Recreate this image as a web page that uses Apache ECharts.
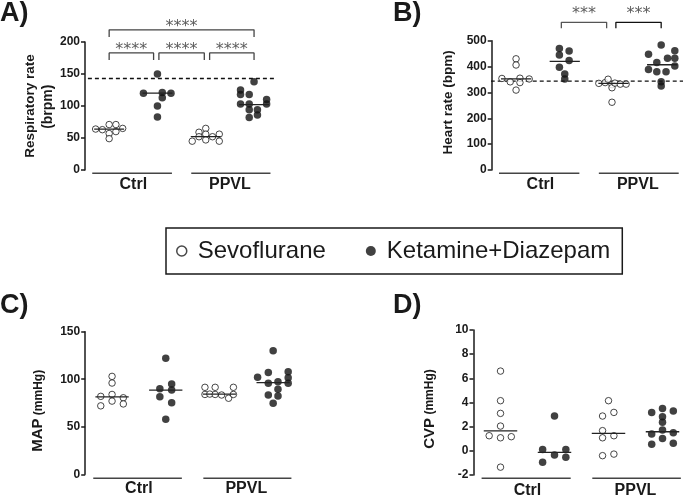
<!DOCTYPE html>
<html><head><meta charset="utf-8">
<script src="https://cdn.jsdelivr.net/npm/echarts@6/dist/echarts.min.js"></script>
<style>html,body{margin:0;padding:0;background:#fff}#c{width:683px;height:499px}</style>
</head><body><div id="c"></div>
<script>
// ---------------- DATA ----------------
const groupLabels = ['Ctrl', 'PPVL'];
const seriesNames = ['Sevoflurane', 'Ketamine+Diazepam'];

// A) Respiratory rate (brpm)
const rrTicks = [0, 50, 100, 150, 200];
const rrCtrlSevo = [64, 63, 71, 71, 65, 57, 60, 49];
const rrCtrlSevoJitter = [-0.28, -0.14, 0, 0.14, 0.28, 0, 0.14, 0];
const rrCtrlKD = [150, 120, 121, 120, 113, 100, 83];
const rrCtrlKDJitter = [0, -0.29, 0.1, 0.28, 0.1, 0, 0];
const rrPpvlSevo = [65, 59, 56, 52, 45, 47, 52, 56, 45];
const rrPpvlSevoJitter = [0, -0.14, 0, -0.14, -0.28, 0, 0.14, 0.28, 0.28];
const rrPpvlKD = [138, 125, 118, 118, 103, 103, 110, 103, 94, 94, 82, 86];
const rrPpvlKDJitter = [0, -0.28, -0.28, -0.1, -0.28, -0.1, 0.26, 0.26, -0.1, 0.07, -0.1, 0.07];
const rrMedians = [64, 120, 52, 102];
const rrReference = 143;

// B) Heart rate (bpm)
const hrTicks = [0, 100, 200, 300, 400, 500];
const hrCtrlSevo = [354, 341, 430, 406, 355, 338, 352, 309];
const hrCtrlSevoJitter = [-0.29, -0.12, 0, 0, 0.08, 0.08, 0.27, 0];
const hrCtrlKD = [470, 460, 445, 423, 397, 371, 352];
const hrCtrlKDJitter = [-0.11, 0.09, -0.11, 0.09, -0.11, 0, 0];
const hrPpvlSevo = [335, 338, 351, 330, 318, 336, 332, 332, 262];
const hrPpvlSevoJitter = [-0.3, -0.17, -0.11, -0.03, -0.03, 0.03, 0.14, 0.26, -0.03];
const hrPpvlKD = [483, 448, 461, 432, 432, 416, 402, 389, 380, 380, 341, 325];
const hrPpvlKDJitter = [-0.02, -0.28, 0.26, 0.11, 0.26, -0.11, 0.26, -0.28, -0.11, 0.08, -0.02, -0.02];
const hrMedians = [352, 420, 335, 407];
const hrReference = 344;

// C) MAP (mmHg)
const mapTicks = [0, 50, 100, 150];
const mapCtrlSevo = [103, 96, 84, 82, 80.5, 77, 72, 74];
const mapCtrlSevoJitter = [0, 0, 0, -0.21, 0.21, 0, -0.21, 0.21];
const mapCtrlKD = [122, 90, 95, 88.6, 81.6, 75.3, 58];
const mapCtrlKDJitter = [0, -0.11, 0.11, 0.11, -0.11, 0.11, 0];
const mapPpvlSevo = [91.5, 84, 84.4, 91.5, 84, 83.4, 80, 91.5, 84];
const mapPpvlSevoJitter = [-0.27, -0.27, -0.18, -0.08, -0.08, 0.04, 0.17, 0.26, 0.26];
const mapPpvlKD = [130, 102, 107, 108, 101.6, 95.7, 97.4, 95.7, 89.4, 83.4, 82.3, 74.7];
const mapPpvlKDJitter = [0, -0.29, -0.09, 0.28, 0.28, -0.09, 0.09, 0.28, 0.09, -0.09, 0.09, 0];
const mapMedians = [81.5, 88.6, 84.4, 96.5];

// D) CVP (mmHg)
const cvpTicks = [-2, 0, 2, 4, 6, 8, 10];
const cvpCtrlSevo = [6.6, 4.15, 3.1, 2.05, 1.25, 1.08, 1.17, -1.35];
const cvpCtrlSevoJitter = [0, 0, 0, 0, -0.21, 0, 0.2, 0];
const cvpCtrlKD = [2.88, 0.12, 0.12, -0.35, -0.95, -0.54];
const cvpCtrlKDJitter = [0, -0.22, 0.21, 0, -0.22, 0.21];
const cvpPpvlSevo = [4.15, 2.88, 3.18, 1.67, 1.08, 1.25, -0.4, -0.27];
const cvpPpvlSevoJitter = [0, -0.11, 0.1, -0.11, -0.11, 0.1, -0.11, 0.1];
const cvpPpvlKD = [3.18, 3.5, 3.3, 2.83, 2.36, 1.39, 1.72, 1.5, 1.03, 0.54, 0.62];
const cvpPpvlKDJitter = [-0.2, 0, 0.2, 0, 0, -0.2, 0, 0.2, 0, -0.2, 0.2];
const cvpMedians = [1.65, -0.12, 1.45, 1.58];

// significance annotations
const rrSig = ['****', '****', '****', '****'];
const hrSig = ['***', '***'];

// ---------------- LAYOUT / STYLE ----------------
const FONT = "'Liberation Sans', Arial, Helvetica, sans-serif";
const INK = '#1a1a1a';

const panels = [
  { grid: {left: 85, top: 42, width: 193.2, height: 128}, ticks: rrTicks, labelMargin: 7, under: 3.3,
    sevo: [[rrCtrlSevo, rrCtrlSevoJitter], [rrPpvlSevo, rrPpvlSevoJitter]],
    kd: [[rrCtrlKD, rrCtrlKDJitter], [rrPpvlKD, rrPpvlKDJitter]],
    medians: rrMedians, ref: rrReference, refX: [0.56, 4.44],
    brackets: [
      {x: [1, 4], top: 219, leg: 208, ty: 223.5, text: rrSig[0], color: '#444'},
      {x: [1, 1.92], top: 183, leg: 172, ty: 187.5, text: rrSig[1], color: '#444'},
      {x: [2.03, 2.97], top: 183, leg: 172, ty: 187.5, text: rrSig[2], color: '#444'},
      {x: [3.08, 4], top: 183, leg: 172, ty: 187.5, text: rrSig[3], color: '#444'}
    ] },
  { grid: {left: 491.7, top: 40.7, width: 194.8, height: 129.3}, ticks: hrTicks, labelMargin: 7, under: 3.3,
    sevo: [[hrCtrlSevo, hrCtrlSevoJitter], [hrPpvlSevo, hrPpvlSevoJitter]],
    kd: [[hrCtrlKD, hrCtrlKDJitter], [hrPpvlKD, hrPpvlKDJitter]],
    medians: hrMedians, ref: hrReference, refX: [0.48, 4.45],
    brackets: [
      {x: [1.93, 2.86], top: 571, leg: 548, ty: 603, text: hrSig[0], color: '#555'},
      {x: [3.05, 3.98], top: 571, leg: 548, ty: 603, text: hrSig[1], color: '#111'}
    ] },
  { grid: {left: 85.2, top: 331.7, width: 214.8, height: 142.6}, ticks: mapTicks, labelMargin: 6.5, under: 4,
    sevo: [[mapCtrlSevo, mapCtrlSevoJitter], [mapPpvlSevo, mapPpvlSevoJitter]],
    kd: [[mapCtrlKD, mapCtrlKDJitter], [mapPpvlKD, mapPpvlKDJitter]],
    medians: mapMedians, ref: null, brackets: [] },
  { grid: {left: 473.5, top: 330, width: 216, height: 145}, ticks: cvpTicks, labelMargin: 7.5, under: 3.3,
    sevo: [[cvpCtrlSevo, cvpCtrlSevoJitter], [cvpPpvlSevo, cvpPpvlSevoJitter]],
    kd: [[cvpCtrlKD, cvpCtrlKDJitter], [cvpPpvlKD, cvpPpvlKDJitter]],
    medians: cvpMedians, ref: null, brackets: [] }
];

const grids = [], xAxes = [], yAxes = [], series = [];

panels.forEach((p, i) => {
  const ymin = p.ticks[0], ymax = p.ticks[p.ticks.length - 1];
  const interval = p.ticks[1] - p.ticks[0];
  grids.push(Object.assign({containLabel: false, outerBoundsMode: 'none'}, p.grid));
  const xv = xAxes.length;
  xAxes.push({type: 'value', gridIndex: i, min: 0.5, max: 4.5, show: false, position: 'top'});
  xAxes.push({type: 'category', gridIndex: i, data: groupLabels, position: 'bottom',
    axisLine: {show: false}, axisTick: {show: false}, splitLine: {show: false},
    axisLabel: {fontFamily: FONT, fontSize: 16, fontWeight: 'bold', color: INK, margin: p.labelMargin}});
  yAxes.push({type: 'value', gridIndex: i, min: ymin, max: ymax, interval: interval,
    axisLine: {show: true, lineStyle: {color: INK, width: 1.5}},
    axisTick: {show: true, length: 4, lineStyle: {color: INK, width: 1.5}},
    splitLine: {show: false},
    axisLabel: {fontFamily: FONT, fontSize: 12, fontWeight: 'bold', color: INK, margin: 5}});

  const base = {xAxisIndex: xv, yAxisIndex: i, silent: true, animation: false};
  const sevoData = [], kdData = [];
  p.sevo.forEach(([vals, jit], g) => vals.forEach((v, k) => sevoData.push([1 + 2 * g + jit[k], v])));
  p.kd.forEach(([vals, jit], g) => vals.forEach((v, k) => kdData.push([2 + 2 * g + jit[k], v])));
  series.push(Object.assign({type: 'scatter', name: seriesNames[0], data: sevoData, symbolSize: 6.5,
    itemStyle: {color: '#fff', borderColor: INK, borderWidth: 1}, z: 3}, base));
  series.push(Object.assign({type: 'scatter', name: seriesNames[1], data: kdData, symbolSize: 7.5,
    itemStyle: {color: '#111'}, z: 3}, base));

  p.medians.forEach((m, k) => {
    const c = k + 1;
    series.push(Object.assign({type: 'line', data: [[c - 0.31, m], [c + 0.31, m]], symbol: 'none',
      lineStyle: {color: '#222', width: 1.3}, z: 4, clip: false}, base));
  });

  const pxPerUnit = p.grid.height / (ymax - ymin);
  const yUnder = ymin - p.under / pxPerUnit;
  [[0.65, 2.3], [2.7, 4.34]].forEach(r => {
    series.push(Object.assign({type: 'line', data: [[r[0], yUnder], [r[1], yUnder]], symbol: 'none',
      lineStyle: {color: '#444', width: 1.6}, clip: false}, base));
  });

  if (p.ref !== null) {
    series.push(Object.assign({type: 'line', data: [[p.refX[0], p.ref], [p.refX[1], p.ref]], symbol: 'none',
      lineStyle: {color: '#111', width: 1.3, type: [4, 3]}, clip: false, z: 2}, base));
  }

  p.brackets.forEach(b => {
    series.push(Object.assign({type: 'line', symbol: 'none', clip: false,
      data: [[b.x[0], b.leg], [b.x[0], b.top], [b.x[1], b.top], [b.x[1], b.leg]],
      lineStyle: {color: b.color, width: 1.3}}, base));
    series.push(Object.assign({type: 'scatter', clip: false, symbolSize: 0,
      data: [[(b.x[0] + b.x[1]) / 2, b.ty]],
      label: {show: true, position: 'inside', formatter: b.text, fontFamily: 'DejaVu Sans',
        fontSize: 16, color: '#333'}}, base));
  });
});

const rot = Math.PI / 2;
const letter = (x, y, t) => ({type: 'text', x: x, y: y,
  style: {text: t, font: `bold 27px ${FONT}`, fill: INK, align: 'left', verticalAlign: 'middle'}});
const vtxt = (x, y, text, font) => ({type: 'text', x: x, y: y, rotation: rot,
  style: {text: text, font: font, fill: INK, align: 'center', verticalAlign: 'middle'}});

const graphic = [
  letter(0, 14, 'A)'),
  letter(393, 14, 'B)'),
  letter(0, 306, 'C)'),
  letter(393, 306, 'D)'),
  vtxt(30, 106, 'Respiratory rate', `bold 13.5px ${FONT}`),
  vtxt(48, 106.7, '(brpm)', `bold 14px ${FONT}`),
  vtxt(448.3, 102.3, 'Heart rate (bpm)', `bold 13.5px ${FONT}`),
  {type: 'text', x: 38.3, y: 410.8, rotation: rot, style: {text: '{a|MAP} {b|(mmHg)}', align: 'center', verticalAlign: 'middle',
    rich: {a: {font: `bold 15px ${FONT}`, fill: INK}, b: {font: `bold 12px ${FONT}`, fill: INK}}}},
  {type: 'text', x: 430, y: 409, rotation: rot, style: {text: '{a|CVP} {b|(mmHg)}', align: 'center', verticalAlign: 'middle',
    rich: {a: {font: `bold 15px ${FONT}`, fill: INK}, b: {font: `bold 12px ${FONT}`, fill: INK}}}}
];

const chart = echarts.init(document.getElementById('c'), null, {renderer: 'canvas'});
chart.setOption({
  animation: false,
  backgroundColor: '#fff',
  grid: grids,
  xAxis: xAxes,
  yAxis: yAxes,
  legend: {
    left: 166, top: 228, orient: 'horizontal', selectedMode: false,
    data: [
      {name: seriesNames[0], icon: 'circle', itemStyle: {color: '#fff', borderColor: INK, borderWidth: 1.5}},
      {name: seriesNames[1], icon: 'circle', itemStyle: {color: '#111'}}
    ],
    itemWidth: 10, itemHeight: 10, itemGap: 40,
    textStyle: {fontFamily: FONT, fontSize: 24, color: INK, padding: [0, 0, 0, 6]},
    borderColor: INK, borderWidth: 1.5, padding: [11, 12, 11, 10]
  },
  graphic: graphic,
  series: series
});
</script></body></html>
